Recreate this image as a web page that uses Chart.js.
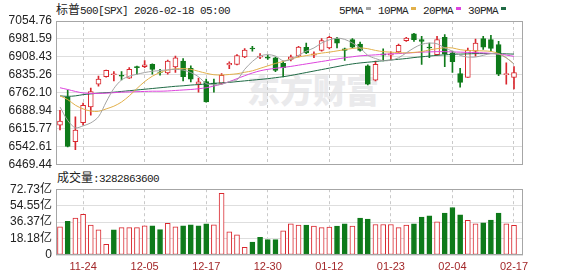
<!DOCTYPE html>
<html><head><meta charset="utf-8">
<script src="https://cdn.jsdelivr.net/npm/chart.js@4"></script>
<style>
html,body{margin:0;padding:0;background:#fff}
body{width:578px;height:276px;overflow:hidden;position:relative;font-family:"Liberation Sans","Noto Sans CJK SC",sans-serif;color:#222}
.abs{position:absolute}
.mono{font-family:"Liberation Mono",monospace;font-size:11px;letter-spacing:-0.6px}
.cjk{font-family:"Noto Sans CJK SC",sans-serif;font-size:12px}
#title{left:56px;top:1px;line-height:15px;white-space:nowrap}
#legend{left:339px;top:1px;line-height:15px;white-space:nowrap}
#legend .sw{display:inline-block;width:5px;height:3px;vertical-align:middle;margin:0 7px 2px 3px}
#volTitle{left:57px;top:169px;line-height:16px;white-space:nowrap}
#wm{left:247px;top:71px;font-family:"Noto Sans CJK SC",sans-serif;font-weight:900;font-size:33px;line-height:36px;color:#eaeaec;letter-spacing:0px;white-space:nowrap}
canvas{position:absolute;left:0}
</style></head>
<body>
<div id="wm" class="abs">东方财富</div>
<div id="title" class="abs"><span class="cjk">标普</span><span class="mono">500[SPX] 2026-02-18 05:00</span></div>
<div id="legend" class="abs"></div>
<div id="volTitle" class="abs"><span class="cjk">成交量</span><span class="mono">:3282863600</span></div>
<canvas id="main" width="578" height="176" style="top:0"></canvas>
<canvas id="vol" width="578" height="98" style="top:178px"></canvas>
<script>
// ---- data ----
const dates = ['11-19','11-20','11-21','11-24','11-25','11-26','11-28','12-01','12-02','12-03','12-04','12-05','12-08','12-09','12-10','12-11','12-12','12-15','12-16','12-17','12-18','12-19','12-22','12-23','12-24','12-26','12-29','12-30','12-31','01-02','01-05','01-06','01-07','01-08','01-09','01-12','01-13','01-14','01-15','01-16','01-20','01-21','01-22','01-23','01-26','01-27','01-28','01-29','01-30','02-02','02-03','02-04','02-05','02-06','02-09','02-10','02-11','02-12','02-13','02-17'];
const tickDates = ['11-24','12-05','12-17','12-30','01-12','01-23','02-04','02-17'];
const opens  = [6631,6745,6564,6641,6705,6798,6828,6836,6834,6822,6869,6869,6878,6847,6843,6868,6892,6862,6798,6808,6802,6801,6876,6878,6909,6945,6908,6908,6905,6882,6898,6912,6948,6916,6935,6945,6983,6941,6979,6961,6872,6814,6921,6916,6929,6975,7003,6979,6949,6918,6988,6925,6841,6825,6932,6983,6979,6959,6836,6825];
const highs  = [6691,6774,6665,6721,6782,6831,6855,6849,6849,6865,6871,6894,6880,6858,6896,6912,6902,6872,6822,6818,6818,6841,6889,6918,6942,6952,6922,6916,6908,6892,6916,6952,6965,6929,6983,6992,6988,6945,6983,6969,6876,6892,6941,6929,6961,6988,7005,6992,6965,6992,6999,6932,6862,6945,6981,6992,6996,6972,6885,6869];
const lows   = [6611,6542,6531,6631,6671,6789,6826,6811,6815,6821,6838,6865,6838,6834,6838,6845,6811,6807,6765,6724,6765,6798,6861,6876,6905,6932,6901,6898,6849,6827,6892,6909,6922,6905,6932,6941,6945,6894,6945,6932,6795,6811,6892,6898,6925,6972,6972,6878,6905,6916,6869,6845,6785,6825,6912,6939,6932,6832,6798,6778];
const closes = [6647,6544,6611,6711,6767,6818,6854,6840,6830,6858,6865,6876,6858,6845,6892,6905,6828,6818,6807,6725,6798,6834,6882,6914,6936,6941,6912,6903,6854,6865,6909,6949,6925,6921,6975,6988,6965,6935,6948,6935,6798,6878,6916,6921,6956,6985,6979,6972,6945,6979,6921,6889,6805,6935,6965,6948,6943,6838,6841,6845];
const ma5  = [6705,6650,6620,6628,6640,6665,6725,6780,6815,6830,6838,6845,6850,6853,6856,6858,6855,6845,6828,6800,6795,6797,6808,6815,6858,6890,6912,6918,6912,6893,6898,6915,6932,6945,6965,6978,6985,6980,6965,6945,6915,6902,6893,6895,6905,6925,6945,6960,6965,6962,6945,6932,6915,6908,6908,6915,6922,6920,6905,6880];
const ma10 = [6750,6735,6712,6697,6688,6687,6697,6708,6725,6750,6780,6808,6830,6845,6855,6860,6861,6858,6850,6842,6836,6835,6837,6840,6846,6852,6862,6872,6882,6890,6900,6908,6914,6919,6924,6928,6933,6938,6943,6945,6942,6935,6930,6928,6926,6925,6927,6930,6937,6942,6946,6945,6938,6935,6934,6933,6931,6922,6905,6880];
const ma20 = [6783,6776,6768,6762,6760,6760,6761,6763,6765,6766,6767,6768,6769,6769,6770,6772,6774,6776,6779,6783,6790,6798,6808,6820,6832,6843,6852,6858,6862,6866,6870,6875,6880,6885,6890,6895,6900,6905,6909,6913,6915,6917,6919,6921,6922,6924,6926,6928,6929,6930,6930,6929,6928,6927,6926,6925,6923,6920,6916,6911];
const ma30 = [6750,6748,6750,6755,6758,6761,6763,6765,6768,6771,6774,6777,6780,6783,6786,6789,6791,6794,6796,6798,6801,6803,6805,6808,6811,6814,6817,6820,6824,6828,6833,6839,6845,6851,6857,6863,6869,6875,6880,6884,6887,6890,6893,6896,6899,6902,6906,6909,6912,6915,6917,6919,6920,6921,6922,6922,6922,6922,6921,6920];
const volumes = [31.2,37.3,40.8,45.0,33.0,27.7,11.7,27.7,30.2,30.2,30.2,32.3,32.3,28.0,35.1,31.2,32.3,33.3,32.3,34.4,33.3,68.2,25.6,22.4,8.5,14.2,19.5,17.0,17.0,26.6,34.4,33.0,33.0,32.0,30.2,30.9,32.0,34.4,32.0,40.8,39.7,33.7,33.7,33.7,30.2,33.0,34.4,41.9,43.3,36.6,46.2,52.5,44.4,38.3,34.4,35.5,38.7,46.2,34.4,32.83];
const volUp = [1,0,1,1,1,1,1,0,1,1,1,1,0,0,1,1,0,0,0,0,1,1,1,1,1,0,0,0,0,1,1,1,0,1,1,1,0,0,1,0,0,1,1,1,1,1,0,0,0,1,0,0,0,1,1,0,0,0,1,1];
const priceTicks = [6469.44,6542.61,6615.77,6688.94,6762.10,6835.26,6908.43,6981.59,7054.76];
const volTicks = [0,18.18,36.37,54.55,72.73];
const maNames = ['5PMA','10PMA','20PMA','30PMA'];

// ---- style ----
const RED='#d9272e', GREEN='#0e7a1a';
const maColors = ['#a3a3a3','#e2b04a','#dd44dd','#1f6a45'];
const FONT = "'Liberation Sans','Noto Sans CJK SC',sans-serif";
Chart.defaults.font.family = FONT;
Chart.defaults.font.size = 12;
Chart.defaults.color = '#222';

document.getElementById('legend').innerHTML = maNames.map((n,i)=>
  `<span class="mono">${n}</span><span class="sw" style="background:${maColors[i]}"></span>`).join('');

const tickIdx = dates.map((d,i)=>tickDates.includes(d)?i:-1).filter(i=>i>=0);
const up = opens.map((o,i)=>closes[i]>=o);

const framePlugin = {id:'frame', afterDatasetsDraw(chart){
  const {ctx, chartArea:a} = chart;
  ctx.save(); ctx.strokeStyle='#a6a6a6'; ctx.lineWidth=1;
  ctx.strokeRect(Math.round(a.left)+0.5, Math.round(a.top)+0.5, Math.round(a.right-a.left)-1, Math.round(a.bottom-a.top)-1);
  ctx.restore();
}};

function xScale(showLabels){
  return {
    type:'linear', min:-0.52, max:60.17, offset:false,
    afterBuildTicks:s=>{s.ticks = tickIdx.map(v=>({value:v}));},
    afterFit:s=>{s.height = showLabels?16:0;},
    grid:{color:'#c9c9c9', drawTicks:false, offset:false},
    border:{display:false, dash:[3,3]},
    ticks:{display:showLabels, padding:5, color:'#a3282a', font:{size:11}, maxRotation:0, autoSkip:false,
      callback:v=>dates[v]||''}
  };
}

new Chart(document.getElementById('main'), {
  type:'bar',
  data:{datasets:[
    ...[ma5,ma10,ma20,ma30].map((arr,k)=>({type:'line', order:1, data:arr.map((v,i)=>({x:i,y:v})),
      borderColor:maColors[k], borderWidth:1, pointRadius:0, tension:0.3})),
    {type:'bar', order:2, grouped:false, barThickness:5, borderSkipped:false, borderWidth:1,
      data:opens.map((o,i)=>({x:i,y:[o,closes[i]]})),
      backgroundColor:up.map(u=>u?'#ffffff':GREEN), borderColor:up.map(u=>u?RED:GREEN)},
    {type:'bar', order:3, grouped:false, barThickness:1, borderWidth:0,
      data:lows.map((l,i)=>({x:i,y:[l,highs[i]]})),
      backgroundColor:up.map(u=>u?RED:GREEN)}
  ]},
  options:{
    responsive:false, animation:false, devicePixelRatio:1,
    layout:{padding:{left:0,right:55,top:21,bottom:9}},
    plugins:{legend:{display:false}, tooltip:{enabled:false}},
    scales:{
      x:xScale(false),
      y:{type:'linear', min:6469.44, max:7054.76,
        afterBuildTicks:s=>{s.ticks = priceTicks.map(v=>({value:v}));},
        afterFit:s=>{s.width = 56;},
        grid:{color:'#dedede', drawTicks:false}, border:{display:false},
        ticks:{padding:4, color:'#222', autoSkip:false, callback:v=>Number(v).toFixed(2)}}
    }
  },
  plugins:[framePlugin]
});

new Chart(document.getElementById('vol'), {
  type:'bar',
  data:{datasets:[
    {type:'bar', grouped:false, barThickness:5, borderSkipped:false, borderWidth:1,
      data:volumes.map((v,i)=>({x:i,y:v})),
      backgroundColor:volUp.map(u=>u?'#ffffff':GREEN), borderColor:volUp.map(u=>u?RED:GREEN)}
  ]},
  options:{
    responsive:false, animation:false, devicePixelRatio:1,
    layout:{padding:{left:0,right:55,top:9,bottom:5}},
    plugins:{legend:{display:false}, tooltip:{enabled:false}},
    scales:{
      x:xScale(true),
      y:{type:'linear', min:0, max:72.73,
        afterBuildTicks:s=>{s.ticks = volTicks.map(v=>({value:v}));},
        afterFit:s=>{s.width = 56;},
        grid:{color:'#dedede', drawTicks:false}, border:{display:false},
        ticks:{padding:4, color:'#222', autoSkip:false, callback:v=>v===0?'0':Number(v).toFixed(2)+'亿'}}
    }
  },
  plugins:[framePlugin]
});
</script>
</body></html>
